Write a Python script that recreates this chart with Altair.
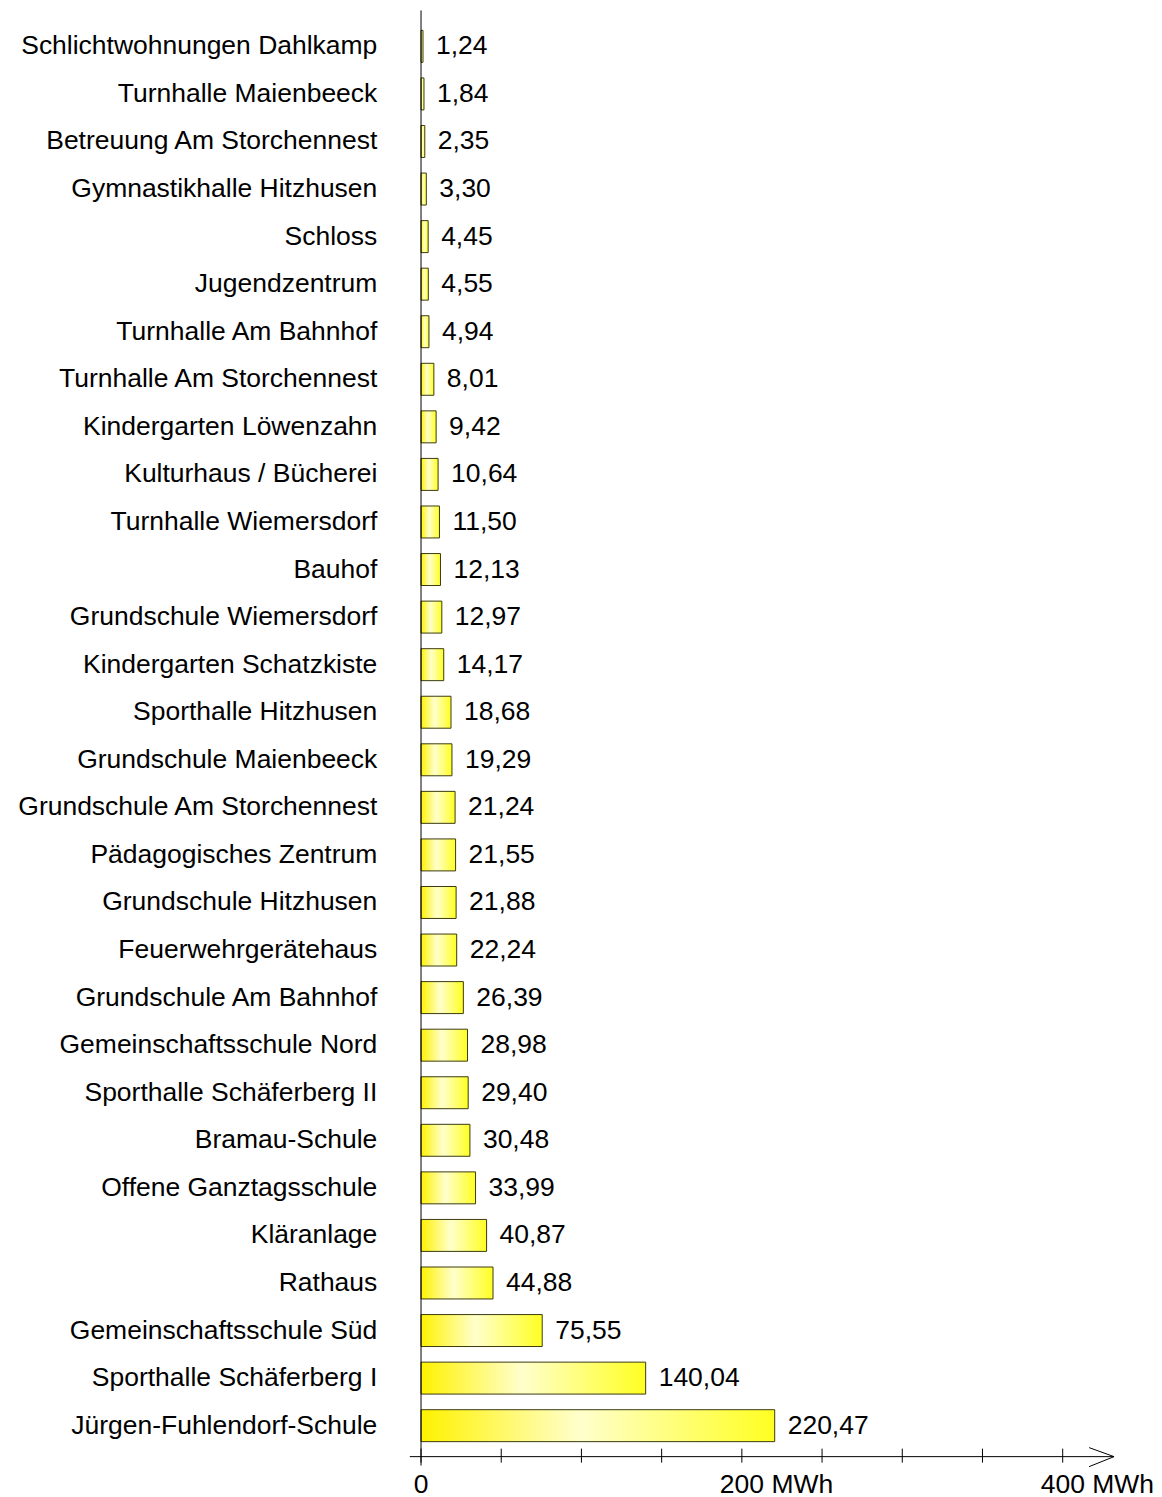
import altair as alt
import pandas as pd

categories = [
    "Schlichtwohnungen Dahlkamp", "Turnhalle Maienbeeck", "Betreuung Am Storchennest",
    "Gymnastikhalle Hitzhusen", "Schloss", "Jugendzentrum", "Turnhalle Am Bahnhof",
    "Turnhalle Am Storchennest", "Kindergarten Löwenzahn", "Kulturhaus / Bücherei",
    "Turnhalle Wiemersdorf", "Bauhof", "Grundschule Wiemersdorf", "Kindergarten Schatzkiste",
    "Sporthalle Hitzhusen", "Grundschule Maienbeeck", "Grundschule Am Storchennest",
    "Pädagogisches Zentrum", "Grundschule Hitzhusen", "Feuerwehrgerätehaus",
    "Grundschule Am Bahnhof", "Gemeinschaftsschule Nord", "Sporthalle Schäferberg II",
    "Bramau-Schule", "Offene Ganztagsschule", "Kläranlage", "Rathaus",
    "Gemeinschaftsschule Süd", "Sporthalle Schäferberg I", "Jürgen-Fuhlendorf-Schule",
]
values = [
    1.24, 1.84, 2.35, 3.30, 4.45, 4.55, 4.94, 8.01, 9.42, 10.64,
    11.50, 12.13, 12.97, 14.17, 18.68, 19.29, 21.24, 21.55, 21.88, 22.24,
    26.39, 28.98, 29.40, 30.48, 33.99, 40.87, 44.88, 75.55, 140.04, 220.47,
]
tick_values = [0, 50, 100, 150, 200, 250, 300, 350, 400]
zero_tick = [0]
zero_label = ["0"]
unit_ticks = [200, 400]
unit_labels = ["200 MWh", "400 MWh"]
x_domain = [-7, 432]

value_labels = [f"{v:.2f}".replace(".", ",") for v in values]
df = pd.DataFrame({"name": categories, "value": values, "label": value_labels})
ticks_df = pd.DataFrame({"t": tick_values})
zero_df = pd.DataFrame({"t": zero_tick, "lab": zero_label})
unit_df = pd.DataFrame({"t": unit_ticks, "lab": unit_labels})
one = pd.DataFrame({"a": [0]})

FONT = "Liberation Sans"
FS = 26.5
xscale = alt.Scale(domain=x_domain, nice=False, zero=False)
yscale = alt.Scale(domain=categories, paddingInner=0.328, paddingOuter=0.42)

grad = alt.LinearGradient(
    gradient="linear",
    stops=[
        alt.GradientStop(color="#FFF200", offset=0),
        alt.GradientStop(color="#FFFFCC", offset=0.45),
        alt.GradientStop(color="#FFFF22", offset=1),
    ],
    x1=0, x2=1, y1=0, y2=0,
)

Y = alt.Y(
    "name:N", scale=yscale, sort=None,
    axis=alt.Axis(title=None, domain=False, ticks=False, labelFontSize=FS,
                  labelFont=FONT, labelColor="black", labelPadding=33, labelLimit=0),
)

bars = alt.Chart(df).mark_bar(fill=grad, stroke="#3a3a10", strokeWidth=1).encode(
    y=Y,
    x=alt.X("value:Q", scale=xscale, axis=None),
    x2=alt.X2Datum(0),
)

vals = alt.Chart(df).mark_text(align="left", baseline="middle", dx=13,
                               fontSize=FS, font=FONT, color="black").encode(
    y=alt.Y("name:N", scale=yscale, sort=None),
    x=alt.X("value:Q", scale=xscale, axis=None),
    text="label:N",
)

xline = alt.Chart(one).mark_rule(color="black", strokeWidth=1).encode(
    x=alt.XDatum(x_domain[0], axis=None, scale=xscale),
    x2=alt.X2Datum(x_domain[1]),
    y=alt.value(1447),
)
yline = alt.Chart(one).mark_rule(color="black", strokeWidth=1).encode(
    x=alt.XDatum(0, axis=None, scale=xscale),
    y=alt.value(0),
    y2=alt.value(1456),
)
tick_marks = alt.Chart(ticks_df).mark_rule(color="black", strokeWidth=1).encode(
    x=alt.X("t:Q", scale=xscale, axis=None),
    y=alt.value(1439),
    y2=alt.value(1453),
)
arrow_top = alt.Chart(one).mark_rule(color="black", strokeWidth=1).encode(
    x=alt.XDatum(416.5, axis=None, scale=xscale),
    x2=alt.X2Datum(x_domain[1]),
    y=alt.value(1438),
    y2=alt.value(1447),
)
arrow_bot = alt.Chart(one).mark_rule(color="black", strokeWidth=1).encode(
    x=alt.XDatum(416.5, axis=None, scale=xscale),
    x2=alt.X2Datum(x_domain[1]),
    y=alt.value(1457),
    y2=alt.value(1447),
)
zero_text = alt.Chart(zero_df).mark_text(align="center", baseline="middle",
                                         fontSize=FS, font=FONT, color="black").encode(
    x=alt.X("t:Q", scale=xscale, axis=None),
    y=alt.value(1475),
    text="lab:N",
)
unit_text = alt.Chart(unit_df).mark_text(align="left", baseline="middle", dx=-22,
                                         fontSize=FS, font=FONT, color="black").encode(
    x=alt.X("t:Q", scale=xscale, axis=None),
    y=alt.value(1475),
    text="lab:N",
)

chart = alt.layer(
    bars, vals, xline, yline, tick_marks, arrow_top, arrow_bot, zero_text, unit_text
).properties(
    width=704.6,
    height=1452,
    background="white",
    autosize=alt.AutoSizeParams(type="none"),
    padding={"left": 402, "top": 2, "right": 40, "bottom": 40},
).configure_view(strokeWidth=0, stroke="transparent")

chart.save("out.html", embed_options={"renderer": "svg", "actions": False})
